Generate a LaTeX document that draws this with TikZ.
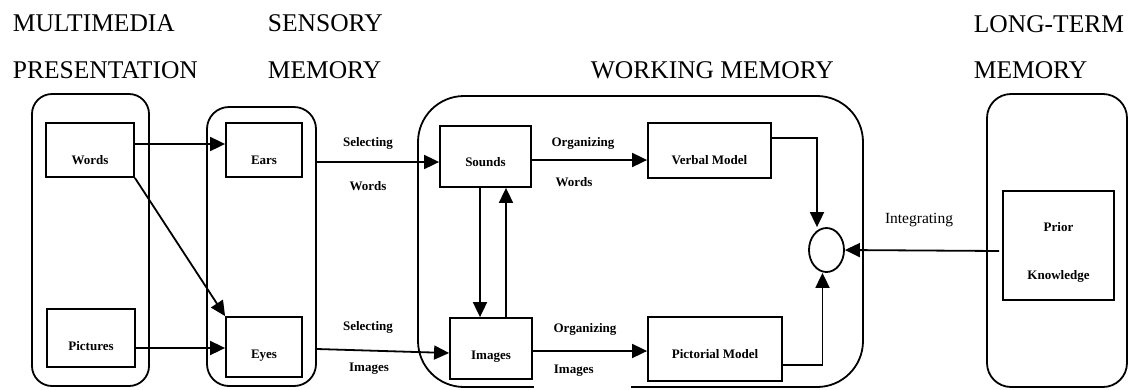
\documentclass[tikz,border=0pt]{standalone}
\usepackage{fontspec}
\setmainfont{Liberation Serif}
\usetikzlibrary{arrows.meta,calc,shapes.geometric}

\begin{document}
\begin{tikzpicture}[x=1pt,y=-1pt,
  line width=1.8pt,
  panel/.style={draw, line width=1.8pt, inner sep=0pt},
  stage/.style={draw, line width=1.8pt, inner sep=0pt,
    font=\fontsize{13}{15}\selectfont\bfseries, text depth=0pt},
  head/.style={anchor=base west, inner sep=0pt,
    font=\fontsize{25.5}{30}\selectfont},
  lbl/.style={inner sep=0pt, font=\fontsize{13}{15}\selectfont\bfseries,
    text height=9pt, text depth=0pt},
  arr/.style={-{Triangle[length=15pt,width=14pt]}, line width=1.8pt},
]
\useasboundingbox (0,0) rectangle (1128,389);

% column headings
\node[head] (h1) at (12,31) {MULTIMEDIA};
\node[head] (h2) at (12,78) {PRESENTATION};
\node[head] (h3) at (267,31) {SENSORY};
\node[head] (h4) at (267,78) {MEMORY};
\node[head] (h5) at (590,78) {WORKING MEMORY};
\node[head] (h6) at (973,32) {LONG-TERM};
\node[head] (h7) at (973,78) {MEMORY};

% the four stores
\node[panel, rounded corners=20pt, minimum width=117pt, minimum height=292pt] (mm) at (90.5,240) {};
\node[panel, rounded corners=22pt, minimum width=109pt, minimum height=279pt] (sens) at (261.5,246.5) {};
\node[panel, rounded corners=46pt, minimum width=445pt, minimum height=291pt] (wm) at (640.5,241.5) {};
\node[panel, rounded corners=24pt, minimum width=140pt, minimum height=293pt] (ltm) at (1057,240.5) {};

% stages inside the stores
\node[stage, minimum width=88pt, minimum height=54pt, text height=29pt] (w) at (90,150) {Words};
\node[stage, minimum width=88pt, minimum height=58pt, text height=25pt] (p) at (91,338) {Pictures};
\node[stage, minimum width=76pt, minimum height=54pt, text height=29pt] (ea) at (264,150) {Ears};
\node[stage, minimum width=76pt, minimum height=60pt, text height=23pt] (ey) at (264,347) {Eyes};
\node[stage, minimum width=91pt, minimum height=61pt, text height=20pt] (snd) at (485.5,156.5) {Sounds};
\node[stage, minimum width=82pt, minimum height=61pt, text height=22pt] (img) at (491,348.5) {Images};
\node[stage, minimum width=123pt, minimum height=55pt, text height=28pt] (vm) at (709.5,150.5) {Verbal Model};
\node[stage, minimum width=134pt, minimum height=64pt, text height=19pt] (pm) at (715,349) {Pictorial Model};
\node[stage, minimum width=111pt, minimum height=109pt, align=center,
      font=\fontsize{13}{48}\selectfont\bfseries, text height=71pt, text depth=3pt]
      (pk) at (1058.5,245.5) {Prior\\Knowledge};
\node[draw, ellipse, minimum width=35pt, minimum height=44pt, inner sep=0pt] (int) at (826.5,250) {};

% process labels
\node[lbl] (sel1) at (368,142) {Selecting};
\node[lbl] (selw) at (368,186) {Words};
\node[lbl] (sel2) at (368,326) {Selecting};
\node[lbl] (seli) at (369,367) {Images};
\node[lbl] (org1) at (583,142) {Organizing};
\node[lbl] (orgw) at (574,182) {Words};
\node[lbl] (org2) at (585,328) {Organizing};
\node[lbl, fill=white, anchor=base west, text width=97pt, align=left,
      text height=18.5pt, text depth=16.5pt] (orgi) at (533,373.5) {\hspace*{20pt}Images};
\node[inner sep=0pt, font=\fontsize{15.5}{18}\selectfont] (intl) at (919,220) {Integrating};

% connectors
\coordinate (a1) at ($(w.east)+(0,-6)$);
\draw[arr] (a1) -- (a1 -| ea.west);
\draw[arr] (w.south east) -- (ey.north west);
\coordinate (a2) at ($(p.east)+(0,10)$);
\draw[arr] (a2) -- (a2 -| ey.west);

\coordinate (a3) at ($(snd.west)+(0,5.5)$);
\draw[arr] (a3 -| sens.east) -- (a3);
\coordinate (a4) at ($(img.west)+(0,4.5)$);
\draw[arr] ($(sens.east)+(0,102.5)$) -- (a4);

\coordinate (a5) at ($(snd.east)+(0,3.5)$);
\draw[arr] (a5) -- (a5 -| vm.west);
\coordinate (a6) at ($(img.east)+(0,2.5)$);
\draw[arr] (a6) -- (a6 -| pm.west);

\coordinate (a7) at ($(snd.south)+(-5.5,0)$);
\draw[arr] (a7) -- (a7 |- img.north);
\coordinate (a8) at ($(img.north)+(15,0)$);
\draw[arr] (a8) -- (a8 |- snd.south);

\draw[arr] ($(vm.east)+(0,-12.5)$) -| ($(int.north)+(-9.5,0)$);
\draw[arr] ($(pm.east)+(0,16)$) -| ($(int.south)+(-4,0)$);
\draw[arr] ($(pk.west)+(-3,5.5)$) -- (int.east);
\end{tikzpicture}
\end{document}
